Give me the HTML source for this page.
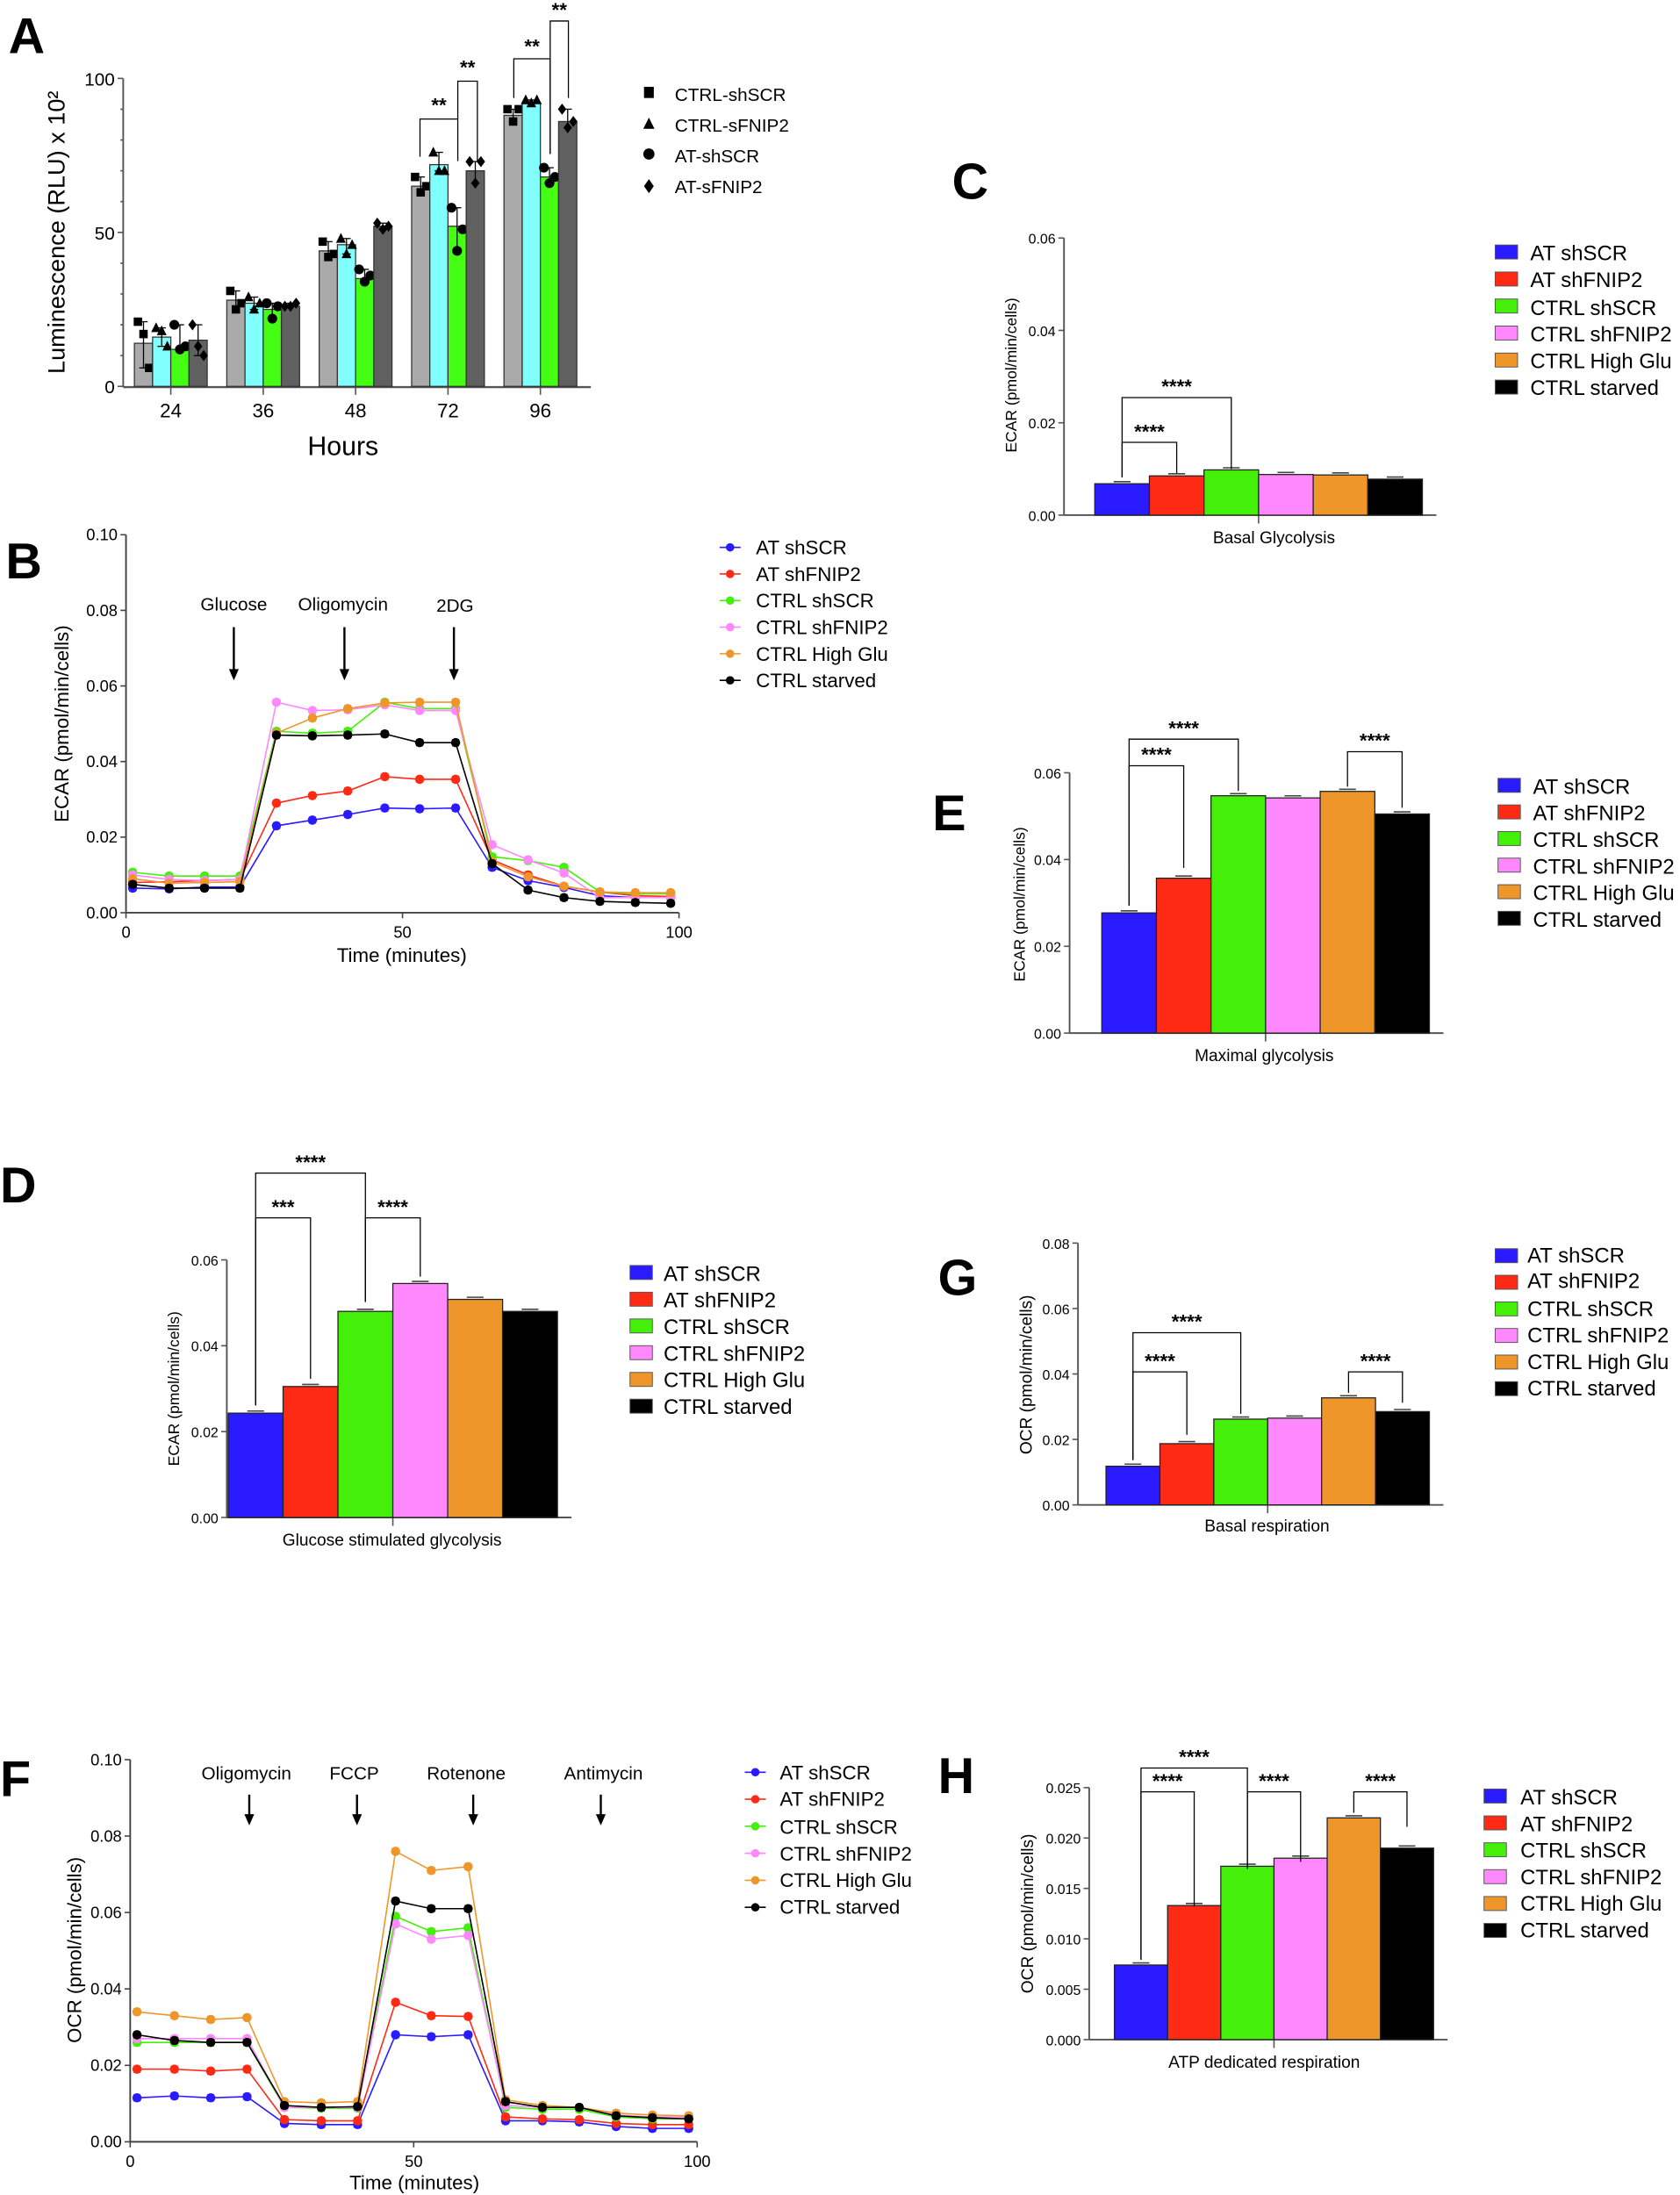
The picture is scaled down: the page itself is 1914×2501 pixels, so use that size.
<!DOCTYPE html>
<html><head><meta charset="utf-8"><style>
html,body{margin:0;padding:0;background:#fff}
svg{display:block}
text{font-family:"Liberation Sans",Arial,sans-serif;fill:#000}
.L{font-weight:bold;font-size:36px}
.lg{font-size:15px}
</style></head><body>
<svg id="s" width="1914" height="2501" viewBox="0 0 1200 1568" xmlns="http://www.w3.org/2000/svg">
<rect width="1200" height="1568" fill="#fff"/>
<text class="L" x="6" y="38">A</text>
<text class="L" x="4" y="413">B</text>
<text class="L" x="680" y="142">C</text>
<text class="L" x="0" y="859">D</text>
<text class="L" x="666" y="593">E</text>
<text class="L" x="0" y="1283">F</text>
<text class="L" x="670" y="925">G</text>
<text class="L" x="670" y="1281">H</text>

<!-- A texts -->
<text x="46" y="166" font-size="17" transform="rotate(-90 46 166)" text-anchor="middle">Luminescence (RLU) x 10²</text>
<text x="245" y="325" font-size="19" text-anchor="middle">Hours</text>
<g font-size="13">
<text x="482" y="72">CTRL-shSCR</text>
<text x="482" y="94">CTRL-sFNIP2</text>
<text x="482" y="116">AT-shSCR</text>
<text x="482" y="138">AT-sFNIP2</text>
</g>
<rect x="460" y="62" width="7" height="8" fill="#000"/>
<polygon points="463.5,84 467.5,92 459.5,92" fill="#000"/>
<circle cx="463.5" cy="110" r="4" fill="#000"/>
<polygon points="463.5,128 467,133 463.5,138 460,133" fill="#000"/>

<!-- B texts -->
<text x="49" y="517" font-size="14" transform="rotate(-90 49 517)" text-anchor="middle">ECAR (pmol/min/cells)</text>
<text x="287" y="687" font-size="14" text-anchor="middle">Time (minutes)</text>
<g font-size="13" text-anchor="middle"><text x="167" y="436">Glucose</text><text x="245" y="436">Oligomycin</text><text x="325" y="437">2DG</text></g>
<g font-size="14">
<text x="540" y="396">AT shSCR</text><text x="540" y="415">AT shFNIP2</text><text x="540" y="434">CTRL shSCR</text><text x="540" y="453">CTRL shFNIP2</text><text x="540" y="472">CTRL High Glu</text><text x="540" y="491">CTRL starved</text>
</g>

<!-- F texts -->
<text x="58" y="1393" font-size="14" transform="rotate(-90 58 1393)" text-anchor="middle">OCR (pmol/min/cells)</text>
<text x="296" y="1564" font-size="14" text-anchor="middle">Time (minutes)</text>
<g font-size="13" text-anchor="middle"><text x="176" y="1271">Oligomycin</text><text x="253" y="1271">FCCP</text><text x="333" y="1271">Rotenone</text><text x="431" y="1271">Antimycin</text></g>
<g font-size="14">
<text x="557" y="1271">AT shSCR</text><text x="557" y="1290">AT shFNIP2</text><text x="557" y="1310">CTRL shSCR</text><text x="557" y="1329">CTRL shFNIP2</text><text x="557" y="1348">CTRL High Glu</text><text x="557" y="1367">CTRL starved</text>
</g>

<!-- C -->
<text x="726" y="268" font-size="11" transform="rotate(-90 726 268)" text-anchor="middle">ECAR (pmol/min/cells)</text>
<text x="910" y="388" font-size="12" text-anchor="middle">Basal Glycolysis</text>
<g class="lg"><text x="1093" y="186">AT shSCR</text><text x="1093" y="205">AT shFNIP2</text><text x="1093" y="225">CTRL shSCR</text><text x="1093" y="244">CTRL shFNIP2</text><text x="1093" y="263">CTRL High Glu</text><text x="1093" y="282">CTRL starved</text></g>
<!-- E -->
<text x="732" y="646" font-size="11" transform="rotate(-90 732 646)" text-anchor="middle">ECAR (pmol/min/cells)</text>
<text x="903" y="758" font-size="12" text-anchor="middle">Maximal glycolysis</text>
<g class="lg"><text x="1095" y="567">AT shSCR</text><text x="1095" y="586">AT shFNIP2</text><text x="1095" y="605">CTRL shSCR</text><text x="1095" y="624">CTRL shFNIP2</text><text x="1095" y="643">CTRL High Glu</text><text x="1095" y="662">CTRL starved</text></g>
<!-- D -->
<text x="128" y="992" font-size="11" transform="rotate(-90 128 992)" text-anchor="middle">ECAR (pmol/min/cells)</text>
<text x="280" y="1104" font-size="12" text-anchor="middle">Glucose stimulated glycolysis</text>
<g class="lg"><text x="474" y="915">AT shSCR</text><text x="474" y="934">AT shFNIP2</text><text x="474" y="953">CTRL shSCR</text><text x="474" y="972">CTRL shFNIP2</text><text x="474" y="991">CTRL High Glu</text><text x="474" y="1010">CTRL starved</text></g>
<!-- G -->
<text x="737" y="982" font-size="12" transform="rotate(-90 737 982)" text-anchor="middle">OCR (pmol/min/cells)</text>
<text x="905" y="1094" font-size="12" text-anchor="middle">Basal respiration</text>
<g class="lg"><text x="1091" y="902">AT shSCR</text><text x="1091" y="920">AT shFNIP2</text><text x="1091" y="940">CTRL shSCR</text><text x="1091" y="959">CTRL shFNIP2</text><text x="1091" y="978">CTRL High Glu</text><text x="1091" y="997">CTRL starved</text></g>
<!-- H -->
<text x="738" y="1367" font-size="12" transform="rotate(-90 738 1367)" text-anchor="middle">OCR (pmol/min/cells)</text>
<text x="903" y="1477" font-size="12" text-anchor="middle">ATP dedicated respiration</text>
<g class="lg"><text x="1086" y="1289">AT shSCR</text><text x="1086" y="1308">AT shFNIP2</text><text x="1086" y="1327">CTRL shSCR</text><text x="1086" y="1346">CTRL shFNIP2</text><text x="1086" y="1365">CTRL High Glu</text><text x="1086" y="1384">CTRL starved</text></g>

<g id="g"></g>
</svg>
<script>
var G=document.getElementById('g'),NS='http://www.w3.org/2000/svg';
function e(t,a,txt){var n=document.createElementNS(NS,t);for(var k in a)n.setAttribute(k,a[k]);if(txt!=null)n.textContent=txt;G.appendChild(n);return n;}
function ln(x1,y1,x2,y2,c,w){e('line',{x1:x1,y1:y1,x2:x2,y2:y2,stroke:c||'#000','stroke-width':w||1});}
var COL=['#2a1aff','#ff2a14','#44f00a','#ff88ff','#ee962a','#000'];

// Panel A
(function(){
 var ax=88,y0=276,yt=56,sc=(y0-yt)/100;
 ln(ax,y0+0.5,422,y0+0.5,'#555',1.5);ln(ax,yt,ax,y0,'#555',1.2);
 [[0,'0'],[50,'50'],[100,'100']].forEach(function(t){var y=y0-t[0]*sc;ln(ax-4,y,ax,y,'#555');e('text',{x:ax-6,y:y+5,'font-size':13,'text-anchor':'end'},t[1]);});
 for(var i=1;i<10;i++){if(i==5)continue;var y=y0-i*10*sc;ln(ax-2,y,ax,y,'#555');}
 var vals=[[14,16,12,15],[28,27,25,26],[44,46,35,52],[65,72,52,70],[88,92,68,86]];
 var cols=['#aaaaaa','#80fffe','#44ff14','#606060'];
 var cx=[122,188,254,320,386],lab=['24','36','48','72','96'];
 var pts=[[[21,17,6],[19,18,13],[20,12,13],[20,13,10]],[[31,25,27],[29,25,27],[27,22,26],[26,26,27]],[[47,42,43],[48,43,46],[38,34,36],[53,51,52]],[[68,63,65],[76,70,70],[58,44,51],[73,66,73]],[[90,86,90],[93,92,93],[71,66,68],[90,84,86]]];
 cx.forEach(function(c,gi){
  ln(c,y0,c,y0+6,'#555');e('text',{x:c,y:y0+22,'font-size':14,'text-anchor':'middle'},lab[gi]);
  for(var b=0;b<4;b++){var x=c-26+b*13,v=vals[gi][b];
   e('rect',{x:x,y:y0-v*sc,width:13,height:v*sc,fill:cols[b],stroke:'#333','stroke-width':0.8});
   var mx=x+6.5,p=pts[gi][b],mn=Math.min.apply(0,p),mxv=Math.max.apply(0,p);
   ln(mx,y0-mxv*sc,mx,y0-mn*sc,'#000',0.8);ln(mx-3,y0-mxv*sc,mx+3,y0-mxv*sc,'#000',0.8);ln(mx-3,y0-mn*sc,mx+3,y0-mn*sc,'#000',0.8);
   p.forEach(function(pv,k){var px=mx-4+k*4,py=y0-pv*sc;
    if(b==0)e('rect',{x:px-3,y:py-3,width:6,height:6});
    else if(b==1)e('polygon',{points:(px)+','+(py-4)+' '+(px+3.5)+','+(py+3)+' '+(px-3.5)+','+(py+3)});
    else if(b==2)e('circle',{cx:px,cy:py,r:3.5});
    else e('polygon',{points:px+','+(py-4)+' '+(px+3)+','+py+' '+px+','+(py+4)+' '+(px-3)+','+py});
   });
  }
 });
 function br(x1,x2,y,ya,yb,ly){e('polyline',{points:x1+','+ya+' '+x1+','+y+' '+x2+','+y+' '+x2+','+yb,fill:'none',stroke:'#000','stroke-width':0.8});e('text',{x:(x1+x2)/2,y:ly,'font-size':14,'font-weight':'bold','text-anchor':'middle'},'**');}
 br(300,327,85,112,115,80);br(327,341,58,85,115,53);br(367,393,42,70,110,38);br(393,406,15,110,70,12);
})();

function lineChart(o){
 var sx=function(t){return o.x0+(o.x1-o.x0)*t/100},sy=function(v){return o.y0-(o.y0-o.yt)*v/o.ymax};
 ln(o.x0,o.y0,o.x1,o.y0,'#444',1.2);ln(o.x0,o.yt,o.x0,o.y0,'#444',1.2);
 o.ticks.forEach(function(t){var y=sy(t[0]);ln(o.x0-4,y,o.x0,y,'#444');e('text',{x:o.x0-6,y:y+4,'font-size':11.5,'text-anchor':'end'},t[1]);});
 [0,50,100].forEach(function(t){var x=sx(t);ln(x,o.y0,x,o.y0+4,'#444');e('text',{x:x,y:o.y0+18,'font-size':11.5,'text-anchor':'middle'},''+t);});
 o.arrows.forEach(function(a){var x=sx(a);ln(x,o.ay1,x,o.ay2-6,'#000',1.5);e('polygon',{points:(x-3.5)+','+(o.ay2-8)+' '+(x+3.5)+','+(o.ay2-8)+' '+x+','+o.ay2});});
 o.data.forEach(function(d,si){var c=COL[si],pts=d.map(function(v,i){return sx(o.t[i])+','+sy(v)}).join(' ');
  e('polyline',{points:pts,fill:'none',stroke:c,'stroke-width':1});
  d.forEach(function(v,i){var x=sx(o.t[i]),y=sy(v),er=0.0008;
   ln(x,sy(v+er),x,sy(v-er),c,0.8);ln(x-2.5,sy(v+er),x+2.5,sy(v+er),c,0.8);ln(x-2.5,sy(v-er),x+2.5,sy(v-er),c,0.8);
   e('circle',{cx:x,cy:y,r:3.3,fill:c});});
 });
 for(var i=0;i<6;i++){var y=o.ly+i*o.ls;ln(o.lx,y,o.lx+15,y,COL[i],1);e('circle',{cx:o.lx+7.5,cy:y,r:3,fill:COL[i]});}
}
var T=[1.2,7.8,14.2,20.6,27.2,33.7,40.1,46.8,53.1,59.6,66.2,72.7,79.2,85.7,92.1,98.5];
lineChart({x0:90,x1:485,y0:652,yt:382,ymax:0.1,t:T,arrows:[19.5,39.5,59.3],ay1:448,ay2:486,lx:514,ly:391,ls:19,
 ticks:[[0,'0.00'],[0.02,'0.02'],[0.04,'0.04'],[0.06,'0.06'],[0.08,'0.08'],[0.1,'0.10']],
 data:[[.0065,.0063,.0068,.0068,.023,.0245,.026,.0277,.0275,.0277,.012,.0085,.0067,.0045,.004,.004],
 [.008,.0082,.0085,.0088,.029,.031,.0322,.036,.0353,.0353,.014,.01,.007,.0055,.0045,.0043],
 [.0107,.0097,.0097,.0097,.048,.0475,.048,.0557,.054,.054,.0148,.0138,.012,.0055,.005,.005],
 [.01,.0088,.0085,.0088,.0557,.0535,.0537,.055,.0535,.0535,.018,.014,.0105,.004,.004,.004],
 [.009,.0078,.008,.0082,.0475,.0515,.054,.0555,.0557,.0557,.0135,.0095,.007,.0055,.0053,.0053],
 [.0075,.0065,.0065,.0065,.047,.0468,.047,.0473,.045,.045,.013,.006,.004,.003,.0027,.0025]]});
lineChart({x0:93,x1:498,y0:1530,yt:1257,ymax:0.1,t:T,arrows:[21,40,60.5,83],ay1:1282,ay2:1304,lx:532,ly:1266,ls:19.3,
 ticks:[[0,'0.00'],[0.02,'0.02'],[0.04,'0.04'],[0.06,'0.06'],[0.08,'0.08'],[0.1,'0.10']],
 data:[[.0115,.012,.0115,.0118,.0048,.0045,.0045,.028,.0275,.028,.0055,.0055,.0052,.004,.0035,.0035],
 [.019,.019,.0185,.019,.0058,.0055,.0055,.0365,.033,.0328,.0065,.006,.0058,.0048,.0045,.0045],
 [.026,.026,.026,.026,.009,.0088,.0088,.059,.055,.056,.009,.0085,.0085,.0065,.006,.006],
 [.027,.027,.027,.027,.009,.009,.009,.057,.053,.054,.0095,.009,.009,.007,.0065,.0065],
 [.034,.033,.032,.0325,.0105,.0102,.0105,.076,.071,.072,.011,.0095,.009,.0075,.007,.0068],
 [.028,.0265,.026,.026,.0095,.009,.0092,.063,.061,.061,.0105,.009,.009,.0068,.0063,.006]]});

function barChart(o){
 var sy=function(v){return o.y0-(o.y0-o.yt)*v/o.ymax};
 ln(o.ax,o.y0,o.bx+6*o.bw+10,o.y0,'#555',1.2);ln(o.ax,o.yt,o.ax,o.y0,'#555',1.2);
 o.ticks.forEach(function(t){var y=sy(t);ln(o.ax-4,y,o.ax,y,'#555');e('text',{x:o.ax-6,y:y+4,'font-size':10,'text-anchor':'end'},t.toFixed(o.dec));});
 var mid=o.bx+3*o.bw;ln(mid,o.y0,mid,o.y0+6,'#555');
 o.v.forEach(function(v,i){var x=o.bx+i*o.bw;e('rect',{x:x,y:sy(v),width:o.bw,height:o.y0-sy(v),fill:COL[i],stroke:'#222','stroke-width':0.8});
  ln(x+o.bw/2-6,sy(v)-1.5,x+o.bw/2+6,sy(v)-1.5,'#444',1);});
 o.br.forEach(function(b){var x1=o.bx+(b[0]+0.5)*o.bw,x2=o.bx+(b[1]+0.5)*o.bw;
  e('polyline',{points:x1+','+b[3]+' '+x1+','+b[2]+' '+x2+','+b[2]+' '+x2+','+b[4],fill:'none',stroke:'#000','stroke-width':0.8});
  e('text',{x:(x1+x2)/2,y:b[2]-3,'font-size':14,'font-weight':'bold','text-anchor':'middle'},'****'.slice(0,b[5]||4));});
 for(var i=0;i<6;i++)e('rect',{x:o.lx,y:o.ly+i*o.ls-5,width:16,height:10,fill:COL[i],stroke:'#555','stroke-width':0.6});
}
barChart({ax:760,bx:782,bw:39,y0:368,yt:170,ymax:0.06,ticks:[0,.02,.04,.06],dec:2,v:[.0068,.0085,.0098,.0088,.0087,.0078],
 br:[[0,1,316,341,338],[0,2,284,341,335]],lx:1068,ly:180,ls:19.3});
barChart({ax:764,bx:787,bw:39,y0:738,yt:552,ymax:0.06,ticks:[0,.02,.04,.06],dec:2,v:[.0277,.0357,.0547,.0542,.0557,.0505],
 br:[[0,1,547,647,620],[0,2,528,647,565],[4,5,537,562,577]],lx:1070,ly:561,ls:19});
barChart({ax:162,bx:163,bw:39.2,y0:1084,yt:900,ymax:0.06,ticks:[0,.02,.04,.06],dec:2,v:[.0243,.0305,.048,.0545,.0508,.048],
 br:[[0,1,870,1004,985,3],[0,2,838,1004,930],[2,3,870,930,912]],lx:450,ly:909,ls:19.1});
barChart({ax:770,bx:790,bw:38.5,y0:1075,yt:888,ymax:0.08,ticks:[0,.02,.04,.06,.08],dec:2,v:[.0118,.0187,.0262,.0265,.0327,.0285],
 br:[[0,1,980,1043,1025],[0,2,952,1043,1010],[4,5,980,995,1002]],lx:1068,ly:897,ls:19});
barChart({ax:778,bx:796,bw:38,y0:1457,yt:1277,ymax:0.025,ticks:[0,.005,.01,.015,.02,.025],dec:3,v:[.0074,.0133,.0172,.018,.022,.019],
 br:[[0,1,1280,1400,1362],[0,2,1263,1400,1335],[2,3,1280,1335,1330],[4,5,1280,1295,1305]],lx:1060,ly:1283,ls:19.2});
</script>
</body></html>
